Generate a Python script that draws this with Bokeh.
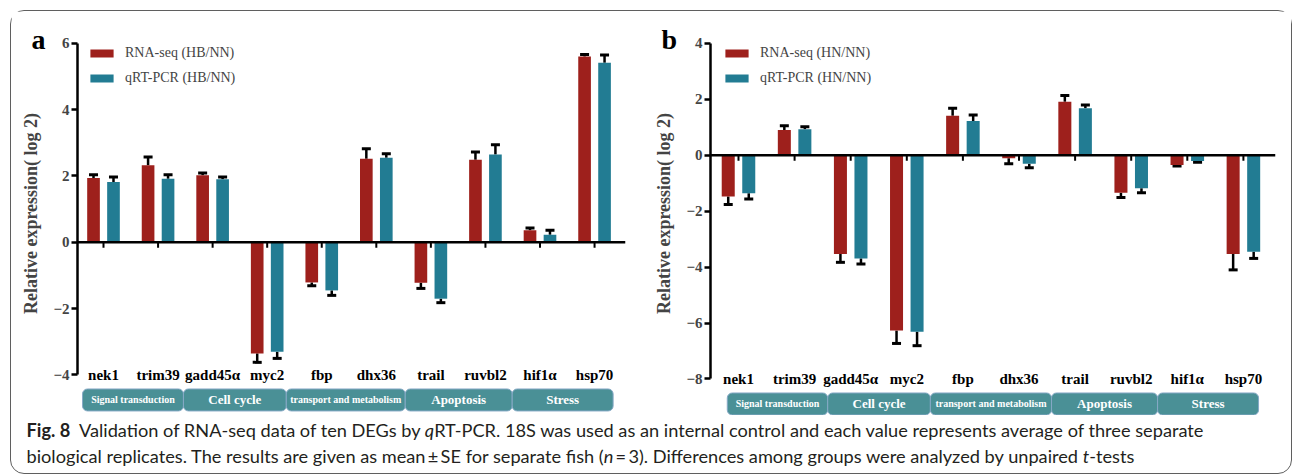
from bokeh.plotting import figure
from bokeh.models import (ColumnDataSource, Whisker, TeeHead, Span, Legend,
                          LegendItem, FixedTicker, Div, Range1d)
from bokeh.layouts import row, column
from bokeh.core.properties import value
from bokeh.embed import file_html
from bokeh.resources import INLINE

# ---------------- data ----------------
genes = ["nek1", "trim39", "gadd45\u03b1", "myc2", "fbp", "dhx36", "trail", "ruvbl2", "hif1\u03b1", "hsp70"]
categories = ["Signal transduction", "Cell cycle", "transport and metabolism", "Apoptosis", "Stress"]
panel_letters = ["a", "b"]

# panel a (HB/NN)
a_series = ["RNA-seq (HB/NN)", "qRT-PCR (HB/NN)"]
a_rna = [1.94, 2.32, 2.02, -3.35, -1.21, 2.52, -1.22, 2.49, 0.36, 5.60]
a_rna_se = [0.10, 0.25, 0.07, 0.27, 0.10, 0.30, 0.17, 0.23, 0.07, 0.06]
a_qpcr = [1.82, 1.92, 1.90, -3.30, -1.45, 2.55, -1.70, 2.65, 0.23, 5.41]
a_qpcr_se = [0.15, 0.12, 0.07, 0.20, 0.15, 0.12, 0.12, 0.29, 0.13, 0.24]
a_yticks = [-4, -2, 0, 2, 4, 6]

# panel b (HN/NN)
b_series = ["RNA-seq (HN/NN)", "qRT-PCR (HN/NN)"]
b_rna = [-1.48, 0.90, -3.53, -6.27, 1.41, -0.11, 1.91, -1.34, -0.35, -3.53]
b_rna_se = [0.28, 0.15, 0.30, 0.46, 0.27, 0.20, 0.22, 0.17, 0.04, 0.57]
b_qpcr = [-1.36, 0.93, -3.69, -6.31, 1.22, -0.31, 1.68, -1.18, -0.21, -3.45]
b_qpcr_se = [0.21, 0.09, 0.20, 0.50, 0.22, 0.14, 0.11, 0.16, 0.04, 0.24]
b_yticks = [-8, -6, -4, -2, 0, 2, 4]

y_label = "Relative expression( log 2)"

RED = "#9e201c"
TEAL = "#227c93"
BAND = "#4a9096"
SERIF = "Liberation Serif"


def panel(series, rna, rna_se, qpcr, qpcr_se, yticks, width, height,
          xr, yr, mb_left, mb_right, px_per_unit, band_edges, legend_loc):
    p = figure(width=width, height=height, x_range=Range1d(*xr), y_range=Range1d(*yr),
               output_backend="svg", toolbar_location=None, x_axis_location=None,
               min_border_left=mb_left, min_border_right=mb_right, min_border_top=0,
               min_border_bottom=0, outline_line_color=None,
               background_fill_color="white", border_fill_color="white")
    for g in p.grid:
        g.visible = False

    idx = list(range(len(genes)))
    off = 0.183
    bw = 0.232
    x_r = [i - off for i in idx]
    x_q = [i + off for i in idx]
    r1 = p.vbar(x=x_r, top=rna, bottom=0, width=bw, fill_color=RED, line_color=None)
    r2 = p.vbar(x=x_q, top=qpcr, bottom=0, width=bw, fill_color=TEAL, line_color=None)

    # one-sided error bars (away from zero)
    for xs, vals, ses in ((x_r, rna, rna_se), (x_q, qpcr, qpcr_se)):
        ends = [v + (s if v >= 0 else -s) for v, s in zip(vals, ses)]
        src = ColumnDataSource(dict(x=xs, lower=vals, upper=ends))
        w = Whisker(source=src, base="x", lower="lower", upper="upper", dimension="height",
                    line_color="black", line_width=2.5, lower_head=None,
                    upper_head=TeeHead(size=9, line_color="black", line_width=3))
        p.add_layout(w)

    # zero line with ticks
    p.add_layout(Span(location=0, dimension="width", line_color="black", line_width=2.5))
    tick_len = 5.5 / px_per_unit
    p.segment(x0=idx, y0=[0] * len(idx), x1=idx, y1=[-tick_len] * len(idx),
              line_color="black", line_width=2)

    # gene labels along the bottom
    ymin = min(yticks)
    p.text(x=idx, y=[ymin] * len(idx), text=genes, text_align="center",
           text_baseline="middle", text_font=value(SERIF), text_font_style="bold",
           text_font_size="15px", text_color="black")

    # category bands
    band_top = ymin - 14 / px_per_unit
    band_bot = ymin - 36 / px_per_unit
    lefts = band_edges[:-1]
    rights = band_edges[1:]
    q = p.quad(left=lefts, right=rights, top=band_top, bottom=band_bot,
               fill_color=BAND, line_color="#86a9c6", line_width=1)
    try:
        q.glyph.border_radius = 5
    except Exception:
        pass
    centers = [(l + r) / 2 for l, r in zip(lefts, rights)]
    sizes = ["10px" if len(c) > 12 else "13px" for c in categories]
    src = ColumnDataSource(dict(x=centers, y=[(band_top + band_bot) / 2] * len(centers),
                                t=categories, s=sizes))
    p.text(x="x", y="y", text="t", source=src, text_font_size="s", text_align="center",
           text_baseline="middle", text_font=value(SERIF), text_font_style="bold",
           text_color="white")

    # y axis
    ax = p.yaxis[0]
    ax.ticker = FixedTicker(ticks=yticks)
    ax.bounds = (min(yticks), max(yticks))
    ax.axis_line_width = 2.5
    ax.axis_line_color = "black"
    ax.major_tick_line_width = 2.5
    ax.major_tick_out = 6
    ax.major_tick_in = 0
    ax.minor_tick_line_color = None
    ax.major_label_text_font = SERIF
    ax.major_label_text_font_style = "bold"
    ax.major_label_text_font_size = "15px"
    ax.major_label_standoff = 2
    ax.axis_label = y_label
    ax.axis_label_text_font = SERIF
    ax.axis_label_text_font_style = "bold"
    ax.axis_label_text_font_size = "18px"
    ax.axis_label_standoff = 9

    # legend
    leg = Legend(items=[LegendItem(label=series[0], renderers=[r1]),
                        LegendItem(label=series[1], renderers=[r2])],
                 location=legend_loc, glyph_width=29, glyph_height=10, label_standoff=9,
                 label_height=20, spacing=5, padding=0, margin=0,
                 border_line_color=None, background_fill_alpha=0,
                 label_text_font=SERIF, label_text_font_size="14px")
    p.add_layout(leg)
    return p


pa = panel(a_series, a_rna, a_rna_se, a_qpcr, a_qpcr_se, a_yticks,
           632, 404, (-0.4766, 9.567), (-5.222, 6.959), 66, 18, 33.17,
           [-0.385, 1.465, 3.35, 5.53, 7.49, 9.34], (10, 327))
pb = panel(b_series, b_rna, b_rna_se, b_qpcr, b_qpcr_se, b_yticks,
           648, 404, (-0.499, 9.572), (-9.306, 5.137), 67, 16, 27.97,
           [-0.20, 1.59, 3.42, 5.58, 7.47, 9.27], (12, 327))

letter_css = ("position:absolute;top:-389px;font-family:'Liberation Serif',serif;"
              "font-weight:bold;font-size:28px;line-height:28px;color:#000;")
caption_html = (
    "<div style=\"position:relative;font-family:Lato,'Open Sans',sans-serif;font-size:18.2px;"
    "line-height:25.5px;color:#231f20;white-space:nowrap;padding:3px 0 0 15.5px;margin:0;\">"
    f"<span style=\"{letter_css}left:20.5px;\">{panel_letters[0]}</span>"
    f"<span style=\"{letter_css}left:650.5px;\">{panel_letters[1]}</span>"
    "<b>Fig.&nbsp;8</b>&nbsp;&nbsp;Validation of RNA-seq data of ten DEGs by <i>q</i>RT-PCR. "
    "18S was used as an internal control and each value represents average of three separate<br>"
    "biological replicates. The results are given as mean&thinsp;&plusmn;&thinsp;SE for separate fish "
    "(<i>n</i>&thinsp;=&thinsp;3). Differences among groups were analyzed by unpaired <i>t</i>-tests"
    "</div>"
)
cap = Div(text=caption_html, width=1280, height=58,
          styles={"margin": "0", "padding": "0", "overflow": "visible"})

layout = column(row(pa, pb), cap,
                styles={"border": "1.5px solid #5f5f5f", "border-radius": "14px",
                        "margin-left": "10px", "margin-top": "10px",
                        "background-color": "white"})

with open("out.html", "w") as f:
    f.write(file_html(layout, INLINE))
